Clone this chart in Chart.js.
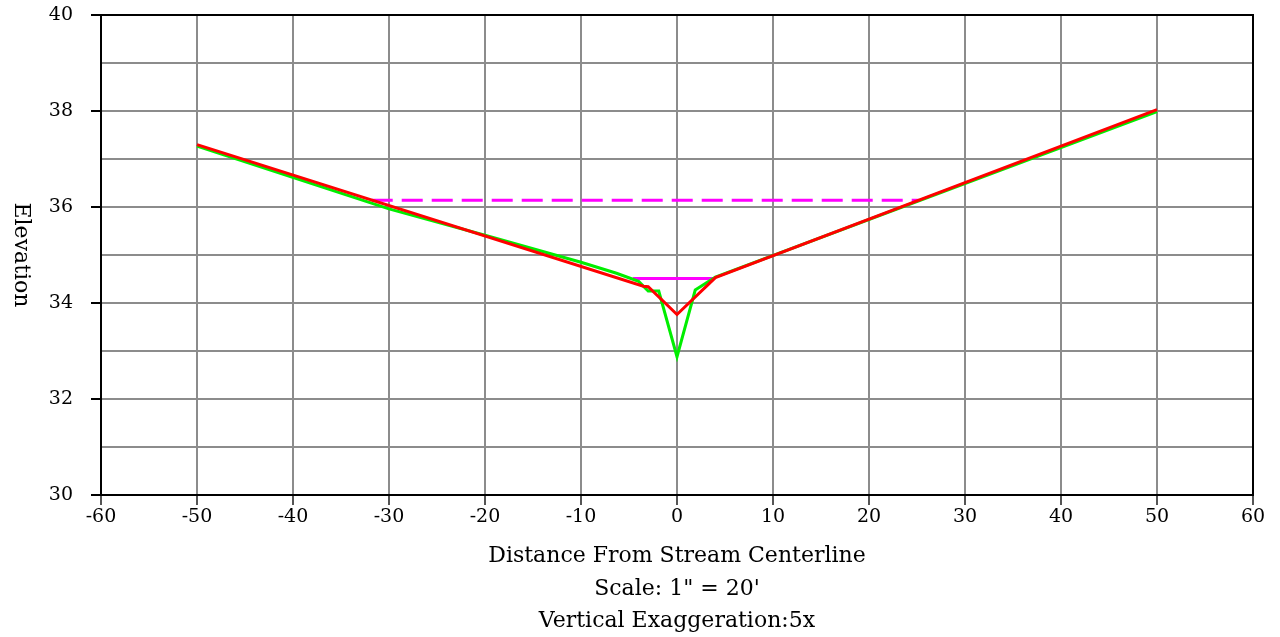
<!DOCTYPE html>
<html>
<head>
<meta charset="utf-8">
<script src="https://cdn.jsdelivr.net/npm/chart.js@4"></script>
<style>
    html, body { margin: 0; padding: 0; background: #ffffff; }
    #wrap { width: 1280px; height: 637px; position: relative; }
</style>
</head>
<body>
<div id="wrap"><canvas id="chart"></canvas></div>
<script>
// existing ground (green)
const groundX = [-50, -30, -20, -10, -6.3, -4.0, -3.0, -1.9, 0, 1.9, 4.0, 50];
const groundY = [37.27, 35.96, 35.41, 34.85, 34.62, 34.45, 34.25, 34.25, 32.88, 34.27, 34.54, 37.99];

// proposed section (red)
const designX = [-50, -3.5, -3.0, 0, 4.0, 50];
const designY = [37.30, 34.35, 34.34, 33.76, 34.53, 38.03];

// bankfull water surface (magenta dashed)
const floodX = [-31.8, 25.2];
const floodY = [36.14, 36.14];

// low flow water surface (magenta solid)
const lowX = [-4.6, 3.8];
const lowY = [34.51, 34.51];

const xTitle = ["Distance From Stream Centerline", "Scale: 1\" = 20'", "Vertical Exaggeration:5x"];
const yTitle = "Elevation";

const fontFamily = "'DejaVu Serif', 'Liberation Serif', serif";

function pts(xs, ys) {
    return xs.map((x, i) => ({ x: x, y: ys[i] }));
}

const framePlugin = {
    id: "frameAndTitle",
    afterDraw(chart) {
        const { ctx, chartArea } = chart;
        ctx.save();
        ctx.strokeStyle = "#000000";
        ctx.lineWidth = 2;
        ctx.strokeRect(chartArea.left, chartArea.top,
            chartArea.right - chartArea.left, chartArea.bottom - chartArea.top);

        ctx.translate(21, (chartArea.top + chartArea.bottom) / 2);
        ctx.rotate(Math.PI / 2);
        ctx.fillStyle = "#000000";
        ctx.font = "22px " + fontFamily;
        ctx.textAlign = "center";
        ctx.textBaseline = "middle";
        ctx.fillText(yTitle, 0, 0);
        ctx.restore();
    }
};

const lineStyle = {
    showLine: true,
    pointRadius: 0,
    borderWidth: 3,
    tension: 0,
    fill: false
};

new Chart(document.getElementById("chart"), {
    type: "scatter",
    data: {
        datasets: [
            { ...lineStyle, label: "Design", data: pts(designX, designY), borderColor: "#ff0000", order: 1 },
            { ...lineStyle, label: "Ground", data: pts(groundX, groundY), borderColor: "#00ee00", order: 2 },
            { ...lineStyle, label: "Low flow", data: pts(lowX, lowY), borderColor: "#ff00ff", order: 3 },
            { ...lineStyle, label: "Bankfull", data: pts(floodX, floodY), borderColor: "#ff00ff", borderDash: [21, 9], order: 4 }
        ]
    },
    options: {
        animation: false,
        responsive: true,
        maintainAspectRatio: false,
        layout: { padding: { top: 15, right: 27, left: 0, bottom: 0 } },
        plugins: {
            legend: { display: false },
            tooltip: { enabled: false }
        },
        scales: {
            x: {
                type: "linear",
                min: -60,
                max: 60,
                afterFit(scale) { scale.height = 142; },
                ticks: {
                    stepSize: 10,
                    color: "#000000",
                    padding: 1,
                    maxRotation: 0,
                    font: { size: 19, family: fontFamily }
                },
                grid: {
                    color: "#8c8c8c",
                    lineWidth: 2,
                    tickLength: 10,
                    tickColor: "#555555",
                    tickWidth: 2
                },
                border: { color: "#000000", width: 2 },
                title: {
                    display: true,
                    text: xTitle,
                    color: "#000000",
                    padding: { top: 0, bottom: -1 },
                    font: { size: 22, family: fontFamily, lineHeight: "32.5px" }
                }
            },
            y: {
                type: "linear",
                min: 30,
                max: 40,
                afterFit(scale) {
                    scale.width = 101;
                    scale.paddingTop = 0;
                    scale.paddingBottom = 0;
                },
                ticks: {
                    stepSize: 1,
                    color: "#000000",
                    padding: 18,
                    font: { size: 19, family: fontFamily },
                    callback: v => (v % 2 === 0 ? v : "")
                },
                grid: {
                    color: "#8c8c8c",
                    lineWidth: 2,
                    tickLength: 10,
                    tickWidth: 2,
                    tickColor: c => (c.tick && c.tick.value % 2 === 0 ? "#000000" : "rgba(0,0,0,0)")
                },
                border: { color: "#000000", width: 2 }
            }
        }
    },
    plugins: [framePlugin]
});
</script>
</body>
</html>
